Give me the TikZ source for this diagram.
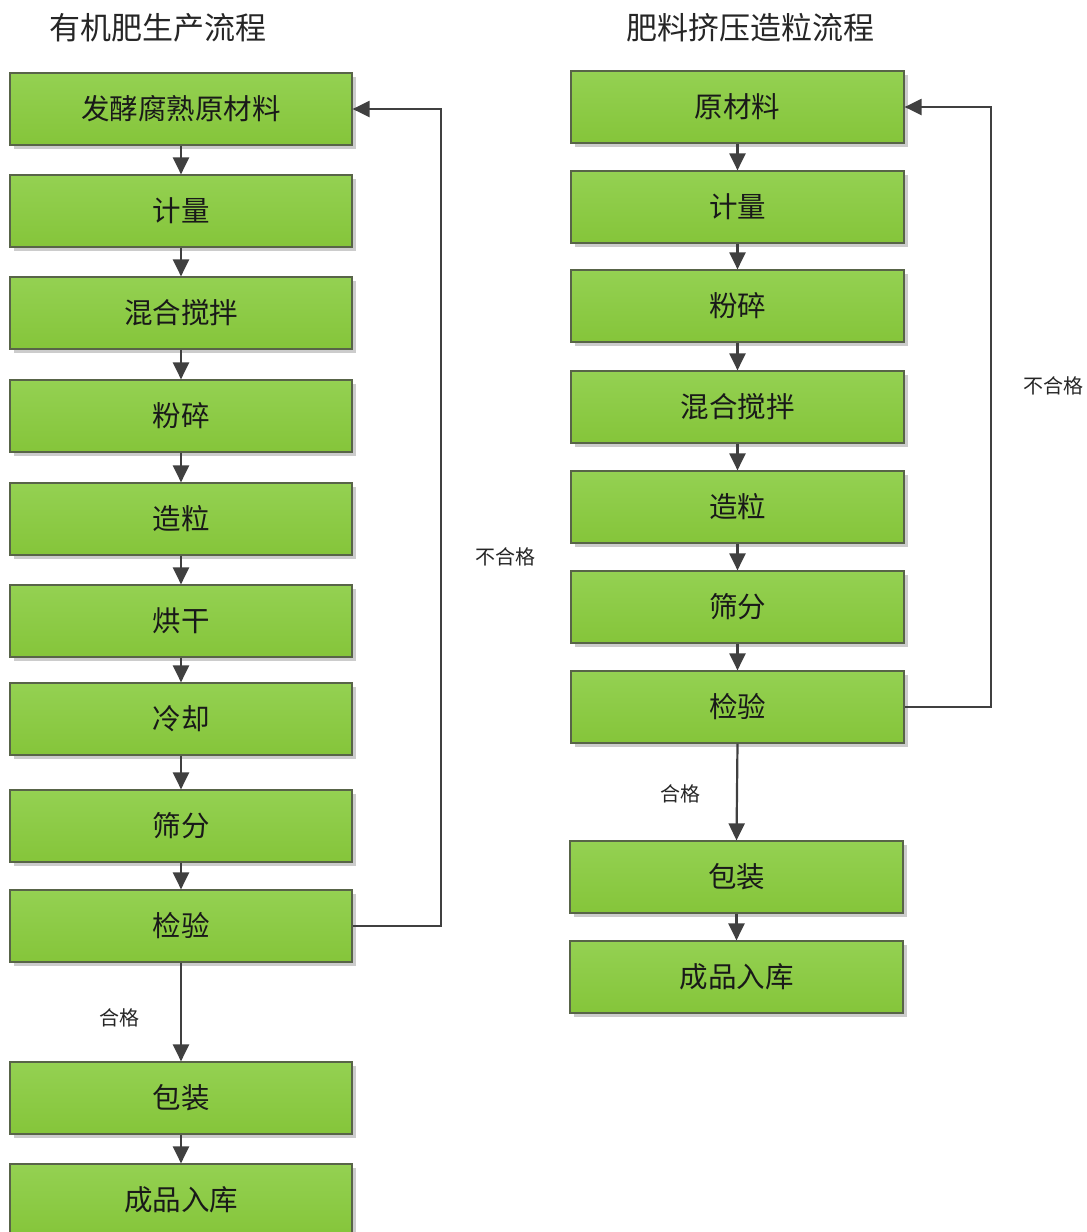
\documentclass[tikz,border=0pt]{standalone}
\usepackage{fontspec}
\setmainfont{Noto Sans CJK SC}
\usetikzlibrary{arrows.meta,shadows}
\definecolor{gtop}{RGB}{148,209,82}
\definecolor{gbot}{RGB}{133,197,58}
\definecolor{gedge}{RGB}{88,100,72}
\definecolor{arr}{RGB}{64,64,64}
\tikzset{
  box/.style={rectangle,draw=gedge,line width=1.2pt,top color=gtop,bottom color=gbot,
    minimum height=72pt,inner sep=0pt,font=\fontsize{28.5}{30}\selectfont,text=black!90,
    drop shadow={shadow xshift=4pt,shadow yshift=-4pt,fill=black!20,opacity=1}},
  flow/.style={draw=arr,line width=2.2pt,-{Triangle[length=17pt,width=16pt]}},
  lbl/.style={font=\fontsize{20}{22}\selectfont,text=black!85},
  ttl/.style={font=\fontsize{31}{34}\selectfont,text=black!85}
}
\begin{document}
\begin{tikzpicture}[x=1pt,y=-1pt]
\useasboundingbox (0,0) rectangle (1087,1232);
% titles
\node[ttl] (Ltitle) at (158,28) {有机肥生产流程};
\node[ttl] (Rtitle) at (750,28) {肥料挤压造粒流程};
% left column
\foreach \n/\y/\t in {1/109/发酵腐熟原材料,2/211/计量,3/313/混合搅拌,4/416/粉碎,5/519/造粒,6/621/烘干,7/719/冷却,8/826/筛分,9/926/检验,10/1098/包装,11/1200/成品入库}{
  \node[box,minimum width=342pt] (L\n) at (181,\y) {\t};}
\foreach \a/\b in {1/2,2/3,3/4,4/5,5/6,6/7,7/8,8/9,9/10,10/11}{\draw[flow] (L\a.south) -- (L\b.north);}
\draw[flow] (L9.east) -| ([xshift=88pt]L1.east) -- (L1.east);
\node[lbl] (Lno) at (505,557) {不合格};
\node[lbl] (Lok) at (119,1018) {合格};
% right column
\foreach \n/\y/\t in {1/107/原材料,2/207/计量,3/306/粉碎,4/407/混合搅拌,5/507/造粒,6/607/筛分,7/707/检验}{
  \node[box,minimum width=333pt] (R\n) at (737.5,\y) {\t};}
\foreach \n/\y/\t in {8/877/包装,9/977/成品入库}{
  \node[box,minimum width=333pt] (R\n) at (736.5,\y) {\t};}
\foreach \a/\b in {1/2,2/3,3/4,4/5,5/6,6/7,7/8,8/9}{\draw[flow] (R\a.south) -- (R\b.north);}
\draw[flow] (R7.east) -| ([xshift=86pt]R1.east) -- (R1.east);
\node[lbl] (Rno) at (1053,386) {不合格};
\node[lbl] (Rok) at (680,794) {合格};
\end{tikzpicture}
\end{document}
